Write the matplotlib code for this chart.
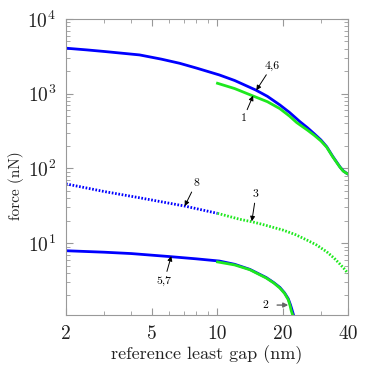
import matplotlib
matplotlib.use('Agg')
import matplotlib.pyplot as plt
from matplotlib.ticker import FixedLocator, NullFormatter, LogLocator

plt.rcParams['font.family'] = 'serif'
plt.rcParams['font.serif'] = ['cmr10']
plt.rcParams['mathtext.fontset'] = 'cm'
plt.rcParams['axes.unicode_minus'] = False
plt.rcParams['axes.formatter.use_mathtext'] = True

# upper pair (solid)
gap_top_blue = [2, 2.5, 3, 4.37, 5.5, 6.69, 8, 10.2, 12, 15, 17, 19.4, 21.5, 24, 26, 28,
                30, 31.9, 34, 36.7, 38, 39.4, 40]
force_top_blue = [4060, 3850, 3670, 3300, 2900, 2550, 2200, 1780, 1500, 1120, 920, 706, 560,
                  422, 350, 289, 240, 195, 145, 105, 93, 86, 84]
gap_top_green = [10, 12, 14.6, 17, 19.4, 21.5, 23.2, 26, 28, 30, 31.9, 34, 36.7, 38, 39.4, 40]
force_top_green = [1377, 1170, 930, 780, 630, 500, 410, 325, 276, 233, 192, 143, 104, 92, 86, 84]

# middle pair (dotted)
gap_mid_blue = [2, 3, 4.37, 7.06, 10]
force_mid_blue = [62, 49, 40.4, 31.3, 25]
gap_mid_green = [10, 12.7, 14.4, 16, 18.1, 20.1, 23, 25.8, 28.7, 31.9, 34.5, 36.7, 38.5, 40]
force_mid_green = [25, 20.8, 19.3, 17.9, 16.2, 14.9, 12.9, 11.0, 9.4, 7.65, 6.3, 5.24, 4.5, 3.93]

# lower pair (solid)
gap_low_blue = [2, 3, 4, 6, 8, 10.2, 12, 14.1, 16.8, 18.2, 19.4, 20.4, 21.2, 21.7, 22.0, 22.45]
force_low_blue = [7.9, 7.55, 7.24, 6.6, 6.15, 5.75, 5.2, 4.45, 3.45, 2.95, 2.55, 2.15, 1.8,
                  1.5, 1.32, 1.08]
gap_low_green = [10, 12, 14.1, 16.8, 18.2, 19.4, 20.4, 21.2, 21.6, 21.9, 22.25]
force_low_green = [5.6, 5.1, 4.4, 3.4, 2.92, 2.5, 2.12, 1.75, 1.47, 1.24, 1.08]

x_ticks = [2, 5, 10, 20, 40]
x_ticklabels = ['2', '5', '10', '20', '40']

blue = '#0000ff'
green = '#1ee81e'
dots = (0, (0.6, 0.6))

fig = plt.figure(figsize=(3.76, 3.82), dpi=100)
ax = fig.add_axes([0.1755, 0.1754, 0.75, 0.775])

ax.plot(gap_top_blue, force_top_blue, color=blue, lw=2)
ax.plot(gap_top_green, force_top_green, color=green, lw=2)
ax.plot(gap_mid_blue, force_mid_blue, color=blue, lw=2, ls=dots)
ax.plot(gap_mid_green, force_mid_green, color=green, lw=2, ls=dots)
ax.plot(gap_low_blue, force_low_blue, color=blue, lw=2)
ax.plot(gap_low_green, force_low_green, color=green, lw=2)

ax.set_xscale('log')
ax.set_yscale('log')
ax.set_xlim(2, 40)
ax.set_ylim(1.09, 1e4)

ax.xaxis.set_major_locator(FixedLocator(x_ticks))
ax.set_xticklabels(x_ticklabels)
ax.xaxis.set_minor_locator(FixedLocator([3, 4, 6, 7, 8, 9, 30]))
ax.xaxis.set_minor_formatter(NullFormatter())
ax.yaxis.set_major_locator(LogLocator(base=10, numticks=10))
ax.yaxis.set_minor_locator(LogLocator(base=10, subs=range(2, 10), numticks=20))
ax.yaxis.set_minor_formatter(NullFormatter())

ax.tick_params(which='both', direction='in', top=True, right=True, color='#999999',
               labelsize=14, labelcolor='#222222')
ax.tick_params(which='major', length=5, pad=7)
ax.tick_params(which='minor', length=3)
for s in ax.spines.values():
    s.set_color('#999999')

ax.set_xlabel('reference least gap (nm)', fontsize=13, labelpad=2, color='#222222')
ax.set_ylabel('force (nN)', fontsize=11, color='#222222')
ax.yaxis.set_label_coords(-0.15, 0.436)

arr = dict(arrowstyle='-|>', color='black', lw=0.7, mutation_scale=7, shrinkA=1, shrinkB=0)
ax.annotate('4,6', xy=(15.1, 1110), xytext=(6, 14), textcoords='offset points',
            fontsize=8.5, ha='left', va='bottom', arrowprops=arr)
ax.annotate('1', xy=(14.6, 940), xytext=(-7, -13), textcoords='offset points',
            fontsize=8.5, ha='center', va='top', arrowprops=arr)
ax.annotate('8', xy=(7.06, 31.3), xytext=(6, 13), textcoords='offset points',
            fontsize=8.5, ha='left', va='bottom', arrowprops=arr)
ax.annotate('3', xy=(14.4, 19.6), xytext=(3, 16), textcoords='offset points',
            fontsize=8.5, ha='center', va='bottom', arrowprops=arr)
ax.annotate('5,7', xy=(6.12, 6.7), xytext=(-5, -14), textcoords='offset points',
            fontsize=8.5, ha='center', va='top', arrowprops=arr)
ax.annotate('2', xy=(21.2, 1.48), xytext=(-14, 0), textcoords='offset points',
            fontsize=8.5, ha='right', va='center',
            arrowprops=dict(arrowstyle='-|>', color='#666666', lw=1.0, mutation_scale=7,
                            shrinkA=4, shrinkB=0))

fig.savefig('out.png', dpi=100)
